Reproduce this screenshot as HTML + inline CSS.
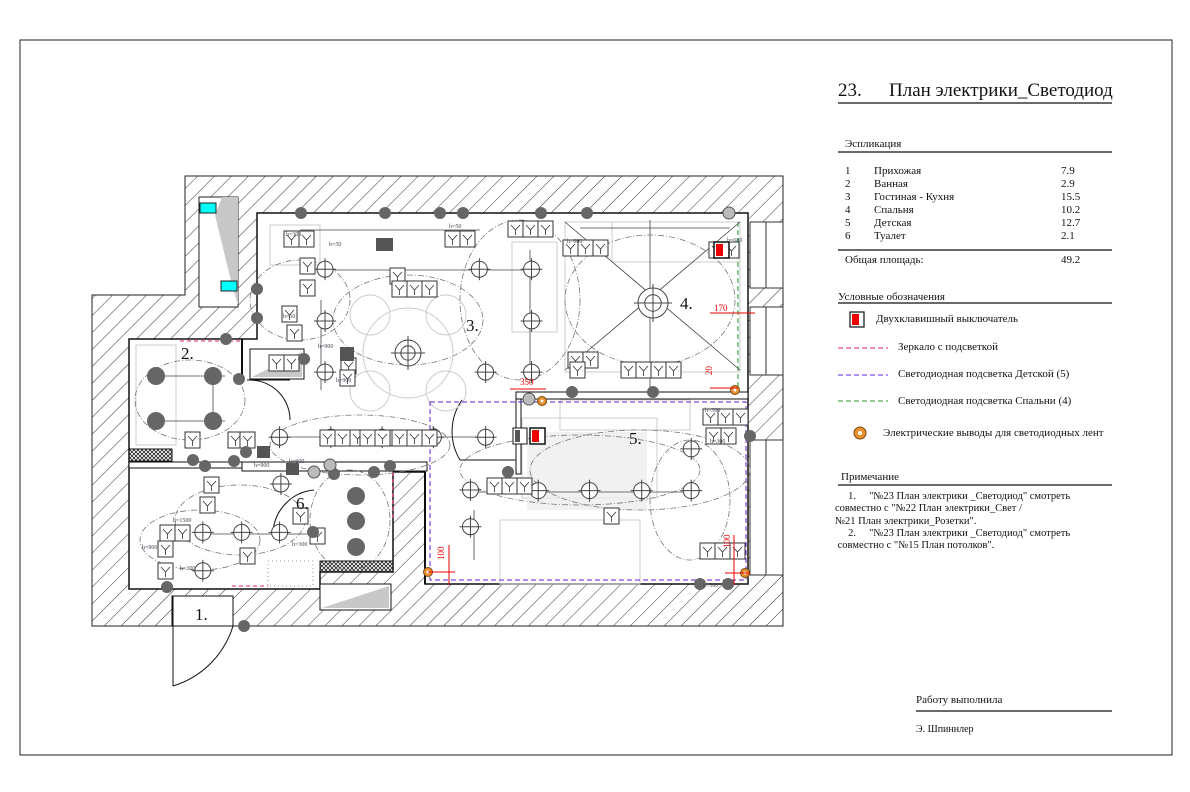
<!DOCTYPE html>
<html><head><meta charset="utf-8"><style>
html,body{margin:0;padding:0;background:#fff}
body{width:1190px;height:792px;overflow:hidden;position:relative;font-family:"Liberation Serif","Noto Serif CJK SC",serif;color:#111}
svg{position:absolute;left:0;top:0}
.t{position:absolute;font-size:11px;white-space:nowrap;line-height:12px}
</style></head><body>
<svg width="1190" height="792" viewBox="0 0 1190 792" xmlns="http://www.w3.org/2000/svg" id="s">
<defs>
<pattern id="h" patternUnits="userSpaceOnUse" width="12" height="12" patternTransform="rotate(45)">
<line x1="0" y1="0" x2="0" y2="12" stroke="#333" stroke-width="1"/></pattern>
<pattern id="x" patternUnits="userSpaceOnUse" width="4" height="4">
<path d="M0 0L4 4M4 0L0 4" stroke="#222" stroke-width="0.8"/></pattern>
</defs>
<rect x="20" y="40" width="1152" height="715" fill="none" stroke="#222" stroke-width="1"/>
<!-- walls -->
<polygon points="185,176 783,176 783,626 92,626 92,295 185,295" fill="url(#h)" stroke="#222"/>
<polygon points="257,213 748,213 748,584 425,584 425,472 393,472 393,572 320,572 320,589 129,589 129,339 257,339" fill="#fff" stroke="#111" stroke-width="1.5"/>
<!-- windows right -->
<rect x="750" y="222" width="33" height="66" fill="#fff" stroke="#333"/>
<rect x="750" y="307" width="33" height="68" fill="#fff" stroke="#333"/>
<rect x="750" y="440" width="33" height="135" fill="#fff" stroke="#333"/>
<line x1="766" y1="222" x2="766" y2="288" stroke="#333"/><line x1="766" y1="307" x2="766" y2="375" stroke="#333"/><line x1="766" y1="440" x2="766" y2="575" stroke="#333"/>
<!-- shaft -->
<rect x="199" y="197" width="39" height="110" fill="#fff" stroke="#222"/>
<polygon points="222,197 238,197 238,305 232,285 215,215" fill="#c8c8c8"/>
<rect x="200" y="203" width="16" height="10" fill="#0ff" stroke="#222"/>
<rect x="221" y="281" width="16" height="10" fill="#0ff" stroke="#222"/>
<!-- door 1 -->
<rect x="172" y="596" width="61" height="30" fill="#fff" stroke="#111"/>
<line x1="173" y1="596" x2="173" y2="686" stroke="#111"/>
<path d="M173 686 A90 90 0 0 0 233 626" fill="none" stroke="#111"/>
<!-- inner walls -->
<rect x="516" y="392" width="232" height="7" fill="#fff" stroke="#111"/>
<rect x="242" y="462" width="185" height="9" fill="#fff" stroke="#111"/>
<rect x="129" y="449" width="43" height="12" fill="url(#x)" stroke="#111"/>
<rect x="129" y="462" width="113" height="6" fill="#fff" stroke="#111"/>
<line x1="242" y1="339" x2="242" y2="381" stroke="#111" stroke-width="2"/>
<line x1="425" y1="472" x2="425" y2="584" stroke="#111" stroke-width="2"/>
<rect x="516" y="399" width="5" height="75" fill="#fff" stroke="#111"/>
<rect x="250" y="349" width="54" height="30" fill="#fff" stroke="#111"/>
<polygon points="252,377 302,377 302,352" fill="#c8c8c8"/>
<rect x="320" y="584" width="71" height="26" fill="#fff" stroke="#111"/>
<polygon points="322,608 389,608 389,586" fill="#c8c8c8"/>
<rect x="320" y="561" width="73" height="11" fill="url(#x)" stroke="#111"/>
<rect x="268" y="561" width="45" height="25" fill="#fff" stroke="#999" stroke-dasharray="1 3"/>
<line x1="247" y1="380" x2="290" y2="380" stroke="#111"/>
<path d="M250 380 A40 40 0 0 1 290 420" fill="none" stroke="#111"/>
<path d="M462 400 A55 55 0 0 0 460 460" fill="none" stroke="#111"/>
<line x1="460" y1="460" x2="516" y2="460" stroke="#111"/>
<path d="M273 535 A45 45 0 0 1 314 490" fill="none" stroke="#111"/>
<!-- furniture faint -->
<g fill="none" stroke="#ccc" stroke-width="1">
<circle cx="408" cy="353" r="45"/><circle cx="370" cy="315" r="20"/><circle cx="446" cy="315" r="20"/><circle cx="370" cy="391" r="20"/><circle cx="446" cy="391" r="20"/>
<rect x="565" y="222" width="175" height="150"/><rect x="612" y="222" width="128" height="40"/>
<rect x="512" y="242" width="45" height="90"/><rect x="522" y="418" width="135" height="80"/>
<rect x="500" y="520" width="140" height="64"/><rect x="560" y="400" width="130" height="30"/>
<rect x="270" y="225" width="50" height="40"/><rect x="136" y="345" width="40" height="100"/>
</g>
<rect x="527" y="432" width="120" height="78" fill="#eee" opacity="0.8"/>
<!-- dashed LED lines -->
<rect x="430" y="402" width="316" height="178" fill="none" stroke="#6020d0" stroke-dasharray="5 3"/>
<line x1="738" y1="222" x2="738" y2="390" stroke="#2a9a2a" stroke-dasharray="5 3"/>
<line x1="180" y1="341" x2="240" y2="341" stroke="#e0206a" stroke-dasharray="4 3"/>
<line x1="393" y1="472" x2="393" y2="520" stroke="#e0206a" stroke-dasharray="4 3"/>
<line x1="232" y1="586" x2="268" y2="586" stroke="#e0206a" stroke-dasharray="4 3"/>
<g id="g"></g>
<!-- red dims -->
<g stroke="#e00" fill="#e00" font-size="9" font-family="Liberation Serif,serif">
<line x1="510" y1="389" x2="546" y2="389"/><text x="520" y="385" stroke="none">350</text>
<line x1="710" y1="313" x2="755" y2="313"/><text x="714" y="311" stroke="none">170</text>
<line x1="710" y1="388" x2="738" y2="388"/><text x="712" y="375" stroke="none" transform="rotate(-90 712 375)">20</text>
<line x1="428" y1="572" x2="455" y2="572"/><line x1="449" y1="545" x2="449" y2="585"/>
<text x="444" y="560" stroke="none" transform="rotate(-90 444 560)">100</text>
<line x1="734" y1="535" x2="734" y2="585"/><line x1="725" y1="573" x2="750" y2="573"/>
<text x="730" y="548" stroke="none" transform="rotate(-90 730 548)">100</text>
</g>
<!-- room labels -->
<g font-size="17" font-family="Liberation Serif,serif" fill="#111">
<text x="181" y="359">2.</text><text x="466" y="331">3.</text><text x="680" y="309">4.</text><text x="629" y="444">5.</text><text x="296" y="509">6.</text><text x="195" y="620">1.</text>
</g>
<!-- right panel lines -->
<g stroke="#111" stroke-width="1.2">
<line x1="838" y1="103" x2="1112" y2="103"/><line x1="838" y1="152" x2="1112" y2="152"/>
<line x1="838" y1="250" x2="1112" y2="250"/><line x1="838" y1="303" x2="1112" y2="303"/>
<line x1="838" y1="485" x2="1112" y2="485"/><line x1="916" y1="711" x2="1112" y2="711"/>
</g>
<rect x="850" y="312" width="14" height="15" fill="#fff" stroke="#111" stroke-width="1.2"/><rect x="852" y="314" width="7" height="11" fill="#e00"/>
<line x1="838" y1="348" x2="888" y2="348" stroke="#e0206a" stroke-dasharray="5 3"/>
<line x1="838" y1="375" x2="888" y2="375" stroke="#6020d0" stroke-dasharray="5 3"/>
<line x1="838" y1="401" x2="888" y2="401" stroke="#2a9a2a" stroke-dasharray="5 3"/>
<circle cx="860" cy="433" r="6" fill="#e89030" stroke="#7a4a10"/><circle cx="860" cy="433" r="2" fill="#fff"/>
</svg>
<div class="t" style="left:838px;top:81px;font-size:19px;line-height:20px">23.</div>
<div class="t" style="left:889px;top:81px;font-size:19px;line-height:20px">План электрики_Светодиод</div>
<div class="t" style="left:845px;top:138px">Эспликация</div>
<div class="t" style="left:845px;top:165px;line-height:13px">1<br>2<br>3<br>4<br>5<br>6</div>
<div class="t" style="left:874px;top:165px;line-height:13px">Прихожая<br>Ванная<br>Гостиная - Кухня<br>Спальня<br>Детская<br>Туалет</div>
<div class="t" style="left:1061px;top:165px;line-height:13px">7.9<br>2.9<br>15.5<br>10.2<br>12.7<br>2.1</div>
<div class="t" style="left:845px;top:254px">Общая площадь:</div>
<div class="t" style="left:1061px;top:254px">49.2</div>
<div class="t" style="left:838px;top:291px">Условные обозначения</div>
<div class="t" style="left:876px;top:313px">Двухклавишный выключатель</div>
<div class="t" style="left:898px;top:341px">Зеркало с подсветкой</div>
<div class="t" style="left:898px;top:368px">Светодиодная подсветка Детской (5)</div>
<div class="t" style="left:898px;top:395px">Светодиодная подсветка Спальни (4)</div>
<div class="t" style="left:883px;top:427px">Электрические выводы для светодиодных лент</div>
<div class="t" style="left:841px;top:471px">Примечание</div>
<div class="t" style="left:835px;top:491px;font-size:10.5px;line-height:12.3px">&nbsp;&nbsp;&nbsp;&nbsp;&nbsp;1.&nbsp;&nbsp;&nbsp;&nbsp;&nbsp;"№23 План электрики _Светодиод" смотреть<br>совместно с "№22 План электрики_Свет /<br>№21 План электрики_Розетки".<br>&nbsp;&nbsp;&nbsp;&nbsp;&nbsp;2.&nbsp;&nbsp;&nbsp;&nbsp;&nbsp;"№23 План электрики _Светодиод" смотреть<br>&nbsp;совместно с "№15 План потолков".</div>
<div class="t" style="left:916px;top:694px">Работу выполнила</div>
<div class="t" style="left:916px;top:724px;font-size:10px">Э. Шпиннлер</div>
<script>
var g=document.getElementById('g'),NS='http://www.w3.org/2000/svg';
function e(t,a){var n=document.createElementNS(NS,t);for(var k in a)n.setAttribute(k,a[k]);g.appendChild(n);return n}
function X(x){return x*0.446+90}function Y(y){return y*0.334+170}
// dash-dot arcs
[[408,320,75,45],[650,300,85,65],[520,300,60,80],[300,300,50,40],[190,400,55,40],[580,470,120,35],[360,445,90,30],[240,520,65,35],[640,470,110,40],[200,540,60,30],[690,500,40,60],[350,520,40,50]].forEach(function(a){e('ellipse',{cx:a[0],cy:a[1],rx:a[2],ry:a[3],fill:'none',stroke:'#777','stroke-dasharray':'6 2 1 2','stroke-width':0.8})});
// wire lines
[[[300,230],[480,230]],[[320,270],[535,270]],[[650,220],[650,390]],[[580,228],[730,228]],[[150,376],[225,376]],[[150,421],[225,421]],[[270,437],[490,437]],[[200,534],[320,534]],[[470,492],[700,492]],[[321,300],[321,390]],[[530,250],[530,380]],[[565,222],[740,370]],[[740,222],[565,370]],[[213,376],[213,421]],[[474,510],[474,560]]].forEach(function(l){e('line',{x1:l[0][0],y1:l[0][1],x2:l[1][0],y2:l[1][1],stroke:'#444','stroke-width':0.8})});
// crosshair fixtures
[[527,297],[527,452],[527,605],[873,297],[990,297],[990,452],[990,605],[887,605],[425,800],[540,800],[655,800],[770,800],[887,800],[253,1085],[340,1085],[425,1085],[253,1200],[853,958],[853,1068],[1005,960],[1120,960],[1237,960],[1348,960],[1348,835],[428,940]].forEach(function(p){var x=X(p[0]),y=Y(p[1]);e('circle',{cx:x,cy:y,r:8,fill:'#fff',stroke:'#444'});e('line',{x1:x-11,y1:y,x2:x+11,y2:y,stroke:'#444'});e('line',{x1:x,y1:y-11,x2:x,y2:y+11,stroke:'#444'})});
[[408,353,13],[653,303,15]].forEach(function(c){e('circle',{cx:c[0],cy:c[1],r:c[2],fill:'#fff',stroke:'#444'});e('circle',{cx:c[0],cy:c[1],r:c[2]*0.55,fill:'none',stroke:'#444'});e('line',{x1:c[0]-c[2]-4,y1:c[1],x2:c[0]+c[2]+4,y2:c[1],stroke:'#444'});e('line',{x1:c[0],y1:c[1]-c[2]-4,x2:c[0],y2:c[1]+c[2]+4,stroke:'#444'})});
// sockets boxes
[[284,231,2],[300,258,1],[300,280,1],[282,306,1],[287,325,1],[445,231,2],[390,268,1],[392,281,3],[508,221,3],[563,240,3],[709,242,2],[320,430,3],[360,430,3],[392,430,3],[621,362,4],[568,352,2],[570,362,1],[269,355,2],[185,432,1],[228,432,1],[204,477,1],[200,497,1],[487,478,3],[703,409,3],[706,428,2],[700,543,3],[604,508,1],[240,548,1],[160,525,2],[158,541,1],[158,563,1],[293,508,1],[310,528,1],[341,358,1],[340,370,1],[240,432,1]].forEach(function(b){for(var i=0;i<b[2];i++){e('rect',{x:b[0]+i*15,y:b[1],width:15,height:16,fill:'#fff',stroke:'#333'});e('path',{d:'M'+(b[0]+i*15+3)+' '+(b[1]+4)+'l4.5 5 4.5-5M'+(b[0]+i*15+7.5)+' '+(b[1]+9)+'v5',fill:'none',stroke:'#333','stroke-width':0.8})}});
e('rect',{x:376,y:238,width:17,height:13,fill:'#555'});
e('rect',{x:340,y:347,width:14,height:14,fill:'#555'});e('rect',{x:257,y:446,width:13,height:12,fill:'#555'});e('rect',{x:286,y:463,width:13,height:12,fill:'#555'});
// switches with red
[[714,242],[530,428]].forEach(function(s){e('rect',{x:s[0],y:s[1],width:15,height:16,fill:'#fff',stroke:'#111','stroke-width':1.5});e('rect',{x:s[0]+2,y:s[1]+2,width:7,height:12,fill:'#e00'})});
e('rect',{x:513,y:428,width:14,height:16,fill:'#fff',stroke:'#111'});e('rect',{x:515,y:430,width:5,height:12,fill:'#555'});
// dark lamps
[[301,213],[385,213],[440,213],[463,213],[541,213],[587,213],[257,289],[257,318],[226,339],[239,379],[304,359],[193,460],[205,466],[234,461],[246,452],[167,587],[244,626],[334,474],[374,472],[390,466],[313,532],[572,392],[653,392],[508,472],[750,436],[700,584],[728,584]].forEach(function(p){e('circle',{cx:p[0],cy:p[1],r:6,fill:'#666'})});
[[156,376],[213,376],[156,421],[213,421],[356,496],[356,521],[356,547]].forEach(function(p){e('circle',{cx:p[0],cy:p[1],r:9,fill:'#666'})});
[[729,213],[529,399],[330,465],[314,472]].forEach(function(p){e('circle',{cx:p[0],cy:p[1],r:6,fill:'#bbb',stroke:'#555'})});
[[542,401],[735,390],[428,572],[745,573]].forEach(function(p){e('circle',{cx:p[0],cy:p[1],r:4.5,fill:'#e89030',stroke:'#7a4a10'});e('circle',{cx:p[0],cy:p[1],r:1.5,fill:'#fff'})});
// small labels
[[286,236,'h=300'],[283,318,'h=50'],[329,246,'b=50'],[318,348,'h=900'],[336,382,'h=900'],[449,228,'h=50'],[567,243,'h=600'],[727,242,'h=600'],[289,463,'h=900'],[254,467,'h=900'],[292,546,'h=300'],[173,522,'h=1500'],[142,549,'h=900'],[180,570,'h=300'],[705,412,'h=300'],[710,443,'h=300'],[703,587,'h=300']].forEach(function(t){var n=e('text',{x:t[0],y:t[1],'font-size':6,fill:'#445','font-family':'Liberation Serif,serif'});n.textContent=t[2]});
</script>
</body></html>
